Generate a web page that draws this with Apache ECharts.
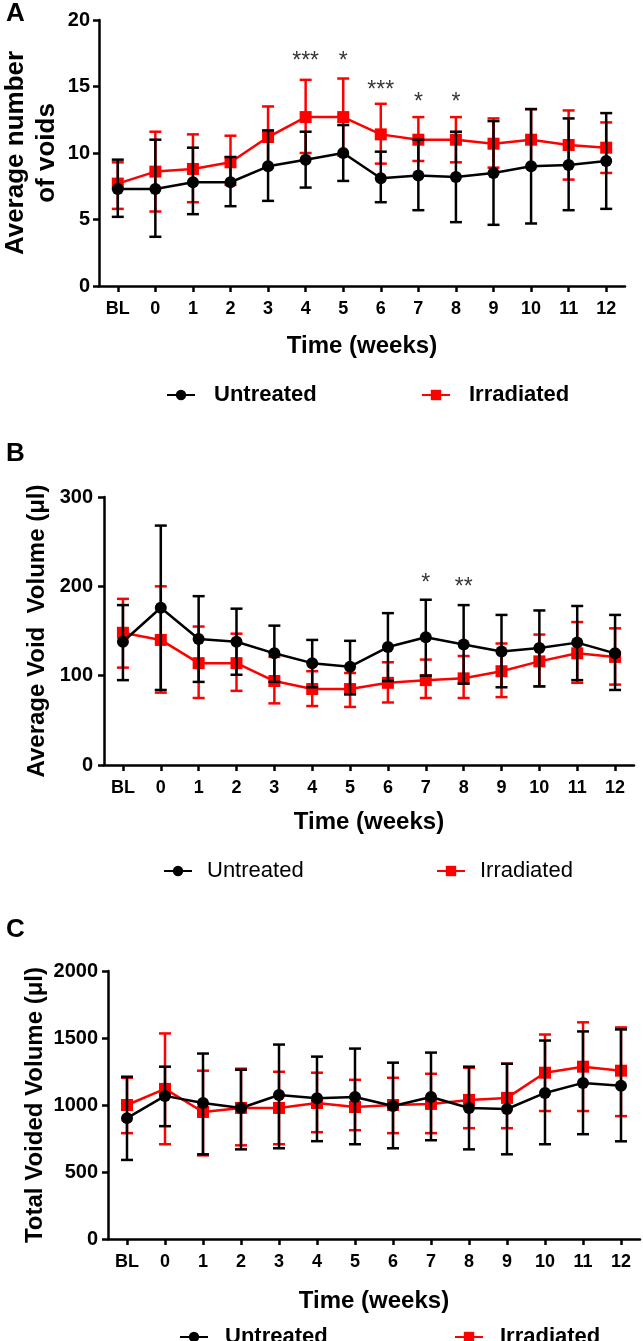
<!DOCTYPE html>
<html>
<head>
<meta charset="utf-8">
<script src="https://cdn.jsdelivr.net/npm/echarts@6/dist/echarts.min.js"></script>
<style>
html,body{margin:0;padding:0;background:#fff;}
#c{width:643px;height:1341px;}
</style>
</head>
<body>
<div id="c"></div>
<script>
// ---------- data ----------
const categories = ['BL','0','1','2','3','4','5','6','7','8','9','10','11','12'];

// Panel A: average number of voids
const aUntreatedMean  = [7.3, 7.3, 7.8, 7.8, 9.0, 9.5, 10.0, 8.1, 8.3, 8.2, 8.5, 9.0, 9.1, 9.4];
const aUntreatedUpper = [9.5, 11.0, 10.4, 9.7, 11.7, 11.6, 12.1, 10.1, 11.0, 11.6, 12.4, 13.3, 12.6, 13.0];
const aUntreatedLower = [5.2, 3.7, 5.4, 6.0, 6.4, 7.4, 7.9, 6.3, 5.7, 4.8, 4.6, 4.7, 5.7, 5.8];
const aIrradiatedMean  = [7.7, 8.6, 8.8, 9.3, 11.2, 12.7, 12.7, 11.4, 11.0, 11.0, 10.7, 11.0, 10.6, 10.4];
const aIrradiatedUpper = [9.3, 11.6, 11.4, 11.3, 13.5, 15.5, 15.6, 13.7, 12.7, 12.7, 12.6, 13.3, 13.2, 12.3];
const aIrradiatedLower = [5.8, 5.6, 6.3, 7.6, 8.9, 10.0, 9.8, 9.2, 9.4, 9.3, 8.9, 9.0, 8.0, 8.5];
const aSigCats  = ['4','5','6','7','8'];
const aSigVals  = [16.9, 16.9, 14.7, 13.8, 13.8];
const aSigText  = ['***','*','***','*','*'];

// Panel B: average void volume (µl)
const bUntreatedMean  = [138, 176, 141, 138, 125, 114, 110, 132, 143, 135, 127, 131, 137, 125];
const bUntreatedUpper = [179, 268, 189, 175, 156, 140, 139, 170, 185, 179, 168, 173, 178, 168];
const bUntreatedLower = [95, 84, 93, 101, 93, 87, 79, 94, 100, 91, 87, 88, 95, 84];
const bIrradiatedMean  = [148, 140, 114, 114, 94, 85, 85, 92, 95, 97, 105, 116, 125, 121];
const bIrradiatedUpper = [186, 200, 155, 147, 121, 105, 103, 115, 118, 122, 136, 146, 160, 153];
const bIrradiatedLower = [109, 81, 75, 83, 69, 66, 65, 70, 75, 75, 76, 88, 92, 90];
const bSigCats = ['7','8'];
const bSigVals = [203, 198];
const bSigText = ['*','**'];

// Panel C: total voided volume (µl)
const cUntreatedMean  = [902, 1068, 1015, 978, 1075, 1050, 1060, 993, 1060, 978, 970, 1090, 1165, 1143];
const cUntreatedUpper = [1211, 1286, 1384, 1263, 1451, 1361, 1421, 1316, 1391, 1286, 1308, 1481, 1549, 1564];
const cUntreatedLower = [590, 842, 632, 669, 677, 730, 707, 677, 737, 669, 632, 707, 782, 729];
const cIrradiatedMean  = [1000, 1120, 948, 978, 978, 1015, 985, 1000, 1008, 1038, 1053, 1241, 1286, 1256];
const cIrradiatedUpper = [1203, 1534, 1256, 1271, 1248, 1241, 1188, 1203, 1233, 1278, 1308, 1526, 1617, 1579];
const cIrradiatedLower = [790, 707, 624, 699, 707, 797, 812, 790, 790, 827, 827, 955, 955, 917];

// axis ranges / ticks
const yMin = [0, 0, 0];
const yMax = [20, 300, 2000];
const yInterval = [5, 100, 500];

// ---------- build ----------
const FONT = 'Liberation Sans, Arial, Helvetica, sans-serif';
const BLACK = '#000000';
const RED = '#ff0000';

function errRender(color){
  return function(params, api){
    const x = api.value(0), lo = api.value(1), hi = api.value(2);
    const p1 = api.coord([x, hi]);
    const p2 = api.coord([x, lo]);
    const w = 6;
    const style = {stroke: color, lineWidth: 2.5};
    return {type:'group', children:[
      {type:'line', shape:{x1:p1[0], y1:p1[1], x2:p2[0], y2:p2[1]}, style: style},
      {type:'line', shape:{x1:p1[0]-w, y1:p1[1], x2:p1[0]+w, y2:p1[1]}, style: style},
      {type:'line', shape:{x1:p2[0]-w, y1:p2[1], x2:p2[0]+w, y2:p2[1]}, style: style}
    ]};
  };
}
function errData(lo, hi){ return categories.map((c,i)=>[i, lo[i], hi[i]]); }

const panels = [
  {um:aUntreatedMean, uu:aUntreatedUpper, ul:aUntreatedLower, im:aIrradiatedMean, iu:aIrradiatedUpper, il:aIrradiatedLower, sc:aSigCats, sv:aSigVals, st:aSigText},
  {um:bUntreatedMean, uu:bUntreatedUpper, ul:bUntreatedLower, im:bIrradiatedMean, iu:bIrradiatedUpper, il:bIrradiatedLower, sc:bSigCats, sv:bSigVals, st:bSigText},
  {um:cUntreatedMean, uu:cUntreatedUpper, ul:cUntreatedLower, im:cIrradiatedMean, iu:cIrradiatedUpper, il:cIrradiatedLower, sc:null}
];

const grids = [
  {left:99, top:20, width:526, height:266},
  {left:104, top:497, width:530, height:268},
  {left:108, top:971, width:532, height:268}
];
const xNameGap = [48, 45, 50];
const yLabelMargin = [9, 11, 10];

const axisLineStyle = {color: BLACK, width: 2.5};

const xAxis = grids.map((g,i)=>({
  type:'category', gridIndex:i, data:categories, boundaryGap:true,
  axisLine:{show:true, lineStyle:axisLineStyle},
  axisTick:{show:true, alignWithLabel:true, length:6, lineStyle:axisLineStyle},
  axisLabel:{color:BLACK, fontFamily:FONT, fontWeight:'bold', fontSize:18, margin:14, interval:0},
  name:'Time (weeks)', nameLocation:'middle', nameGap:xNameGap[i],
  nameTextStyle:{color:BLACK, fontFamily:FONT, fontWeight:'bold', fontSize:24},
  splitLine:{show:false}
}));
const yAxis = grids.map((g,i)=>({
  type:'value', gridIndex:i, min:yMin[i], max:yMax[i], interval:yInterval[i],
  axisLine:{show:true, lineStyle:axisLineStyle},
  axisTick:{show:true, length:6, lineStyle:axisLineStyle},
  axisLabel:{color:BLACK, fontFamily:FONT, fontWeight:'bold', fontSize:20, margin:yLabelMargin[i],
             formatter:(v)=>String(v)},
  splitLine:{show:false}
}));

const series = [];
panels.forEach((p,i)=>{
  series.push({type:'custom', name:'Irradiated err', xAxisIndex:i, yAxisIndex:i, z:2,
    renderItem:errRender(RED), data:errData(p.il, p.iu), encode:{x:0, y:[1,2]}, silent:true});
  series.push({type:'line', name:'Irradiated', xAxisIndex:i, yAxisIndex:i, z:3, data:p.im,
    symbol:'rect', symbolSize:12, color:RED, lineStyle:{color:RED, width:2.5}, itemStyle:{color:RED}, silent:true, animation:false});
  series.push({type:'custom', name:'Untreated err', xAxisIndex:i, yAxisIndex:i, z:4,
    renderItem:errRender(BLACK), data:errData(p.ul, p.uu), encode:{x:0, y:[1,2]}, silent:true});
  series.push({type:'line', name:'Untreated', xAxisIndex:i, yAxisIndex:i, z:5, data:p.um,
    symbol:'circle', symbolSize:12, color:BLACK, lineStyle:{color:BLACK, width:2.5}, itemStyle:{color:BLACK}, silent:true, animation:false});
  if (p.sc) {
    const st = p.st;
    series.push({type:'scatter', name:'sig', xAxisIndex:i, yAxisIndex:i, z:6, symbolSize:0,
      data:p.sc.map((c,k)=>[c, p.sv[k]]),
      label:{show:true, position:'inside', formatter:(q)=>st[q.dataIndex], color:BLACK, fontFamily:FONT, fontSize:23},
      silent:true});
  }
});

function legendPair(left1, left2, top, bold, pad){
  const ts = {color:BLACK, fontFamily:FONT, fontSize:22, fontWeight: bold ? 'bold' : 'normal', padding:[0,0,0,pad]};
  return [
    {data:['Untreated'], left:left1, top:top, itemWidth:28, itemHeight:13, selectedMode:false, padding:0, textStyle:ts},
    {data:['Irradiated'], left:left2, top:top, itemWidth:28, itemHeight:13, selectedMode:false, padding:0, textStyle:ts}
  ];
}
const legend = [].concat(
  legendPair(166, 421, 384, true, 14),
  legendPair(163, 436, 860, false, 10),
  legendPair(179, 454, 1326, true, 12)
);

const titleStyle = {color:BLACK, fontFamily:FONT, fontWeight:'bold', fontSize:26};
const title = [
  {text:'A', left:6, top:1, textStyle:titleStyle, padding:0},
  {text:'B', left:6, top:441, textStyle:titleStyle, padding:0},
  {text:'C', left:6, top:917, textStyle:titleStyle, padding:0}
];

function vText(txt, x, y, size){
  return {type:'text', x:x, y:y, rotation:Math.PI/2, silent:true,
    style:{text:txt, fill:BLACK, fontFamily:FONT, fontWeight:'bold', fontSize:size,
           align:'center', verticalAlign:'middle', textAlign:'center', textVerticalAlign:'middle'}};
}
const graphic = [
  vText('Average number', 16, 153, 26),
  vText('of voids', 47, 153, 26),
  vText('Average Void  Volume (\u03bcl)', 37, 631, 24),
  vText('Total Voided Volume (\u03bcl)', 35, 1105, 24)
];

const chart = echarts.init(document.getElementById('c'), null, {renderer:'canvas'});
chart.setOption({
  animation:false,
  backgroundColor:'#ffffff',
  title: title,
  grid: grids,
  xAxis: xAxis,
  yAxis: yAxis,
  legend: legend,
  graphic: graphic,
  series: series
});
</script>
</body>
</html>
